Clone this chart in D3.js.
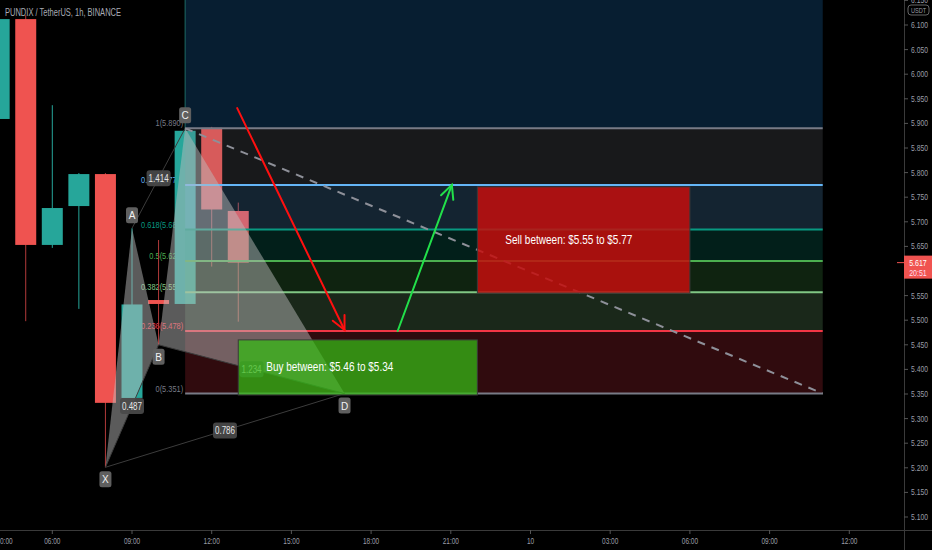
<!DOCTYPE html>
<html><head><meta charset="utf-8">
<script src="https://cdn.jsdelivr.net/npm/d3@7"></script>
<style>
html,body{margin:0;padding:0;background:#000;overflow:hidden}
svg{display:block}
text{font-family:"Liberation Sans","DejaVu Sans",sans-serif}
</style></head><body>
<svg id="c" width="932" height="550"></svg>
<script>
// ---------- data ----------
const title = "PUNDIX / TetherUS, 1h, BINANCE";
const candleHours = [4, 5, 6, 7, 8, 9, 10, 11, 12, 13];           // hours since 00:00 on the 9th
const opens  = [5.909, 6.112, 5.653, 5.732, 5.797, 5.342, 5.541, 5.533, 5.891, 5.722];
const highs  = [6.112, 6.120, 5.937, 5.799, 5.799, 5.687, 5.663, 5.890, 5.893, 5.739];
const lows   = [5.909, 5.498, 5.647, 5.523, 5.201, 5.342, 5.450, 5.533, 5.609, 5.497];
const closes = [6.112, 5.653, 5.728, 5.797, 5.332, 5.532, 5.533, 5.885, 5.725, 5.617];
const lastPrice = 5.617, countdown = "20:51";

const patternNames  = ["X", "A", "B", "C", "D"];
const patternHours  = [8, 9, 10, 11, 17];
const patternPrices = [5.201, 5.687, 5.450, 5.890, 5.351];
const ratioSegments = [["X","B"], ["A","C"], ["B","D"], ["X","D"]];
const ratioTexts    = ["0.487", "1.414", "1.234", "0.786"];

const fibPrice1 = 5.890, fibPrice0 = 5.351, fibStartHour = 11, fibEndHour = 35;
const fibRatios = [1.618, 1, 0.786, 0.618, 0.5, 0.382, 0.236, 0];
const fibColors = ["#2196f3", "#787b86", "#64b5f6", "#089981", "#4caf50", "#81c784", "#f23645", "#787b86"];

const trendHours = [11, 35], trendPrices = [5.890, 5.351];
const redArrowHours = [12.96, 17.0],  redArrowPrices = [5.931, 5.480];
const greenArrowHours = [19.0, 21.04], greenArrowPrices = [5.478, 5.775];

const buyHours = [13, 22], buyPrices = [5.46, 5.348], buyText = "Buy between: $5.46 to $5.34";
const sellHours = [22, 30], sellPrices = [5.771, 5.555], sellText = "Sell between: $5.55 to $5.77";

const timeTickHours  = [4.2, 6, 9, 12, 15, 18, 21, 24, 27, 30, 33, 36];
const timeTickLabels = ["00:00","06:00","09:00","12:00","15:00","18:00","21:00","10","03:00","06:00","09:00","12:00"];
const priceTicks = d3.range(5.10, 6.1501, 0.05);
const currencyLabel = "USDT";

// ---------- setup ----------
const svg = d3.select("#c");
const plotRight = 904, plotBottom = 530;
const x = d3.scaleLinear().domain([6, 9]).range([52.3, 132]);
const y = d3.scaleLinear().domain([5.1, 6.1]).range([517, 25]);
function squeeze(sel, f){ sel.each(function(){ const w=this.getComputedTextLength(); d3.select(this).attr("textLength", w*f).attr("lengthAdjust","spacingAndGlyphs"); }); }

svg.append("rect").attr("width",932).attr("height",550).attr("fill","#000");
const plot = svg.append("g");
svg.append("defs").append("clipPath").attr("id","pc").append("rect").attr("width",plotRight).attr("height",plotBottom);
plot.attr("clip-path","url(#pc)");

const P = {}; patternNames.forEach((n,i)=>P[n]={x:x(patternHours[i]), y:y(patternPrices[i])});

// fib labels (under candles)
const fx0 = x(fibStartHour), fx1 = x(fibEndHour);
const fibPrice = r => fibPrice0 + r*(fibPrice1-fibPrice0);
plot.append("g").selectAll("text").data(fibRatios.filter(r=>r<=1)).join("text")
  .attr("x", fx0-2).attr("y", r=>y(fibPrice(r))-2).attr("text-anchor","end")
  .attr("font-size",9.5).attr("fill", r=>fibColors[fibRatios.indexOf(r)])
  .text(r=>`${r}(${fibPrice(r).toFixed(3)})`).call(squeeze,0.78);

// candles
const bw = (x(1)-x(0))*0.79;
const cg = plot.append("g");
candleHours.forEach((h,i)=>{
  const up = closes[i] >= opens[i];
  const col = up ? "#26a69a" : "#ef5350";
  cg.append("line").attr("x1",x(h)).attr("x2",x(h)).attr("y1",y(highs[i])).attr("y2",y(lows[i])).attr("stroke", up?"#26a69a":"#b23a3a").attr("stroke-width",1);
  const t = y(Math.max(opens[i],closes[i])), b = y(Math.min(opens[i],closes[i]));
  cg.append("rect").attr("x",x(h)-bw/2).attr("width",bw).attr("y",t).attr("height",Math.max(2,b-t)).attr("fill",col);
});

// fib bands & lines
const fg = plot.append("g");
for (let i=0;i<fibRatios.length-1;i++){
  const a = y(fibPrice(fibRatios[i])), b = y(fibPrice(fibRatios[i+1]));
  fg.append("rect").attr("x",fx0).attr("width",fx1-fx0).attr("y",a).attr("height",b-a).attr("fill",fibColors[i]).attr("fill-opacity",0.2);
}
fg.append("line").attr("x1",fx0).attr("x2",fx0).attr("y1",0).attr("y2",y(fibPrice1)).attr("stroke","#1d6b66").attr("stroke-width",1);
fibRatios.filter(r=>r<=1).forEach(r=>{
  fg.append("line").attr("x1",fx0).attr("x2",fx1).attr("y1",y(fibPrice(r))).attr("y2",y(fibPrice(r)))
    .attr("stroke",fibColors[fibRatios.indexOf(r)]).attr("stroke-width",2);
});

// pattern triangles
const pg = plot.append("g");
[["X","A","B"],["B","C","D"]].forEach(tri=>{
  pg.append("path").attr("d","M"+tri.map(n=>P[n].x+","+P[n].y).join("L")+"Z").attr("fill","rgb(190,190,190)").attr("fill-opacity",0.48);
});
ratioSegments.forEach(([a,b])=>{
  pg.append("line").attr("x1",P[a].x).attr("y1",P[a].y).attr("x2",P[b].x).attr("y2",P[b].y).attr("stroke","#3c3c3c").attr("stroke-width",1);
});
ratioSegments.forEach(([a,b],i)=>{
  const mx=(P[a].x+P[b].x)/2, my=(P[a].y+P[b].y)/2;
  const g = pg.append("g").attr("transform",`translate(${mx},${my})`);
  g.append("rect").attr("x",-12).attr("y",-8).attr("width",24).attr("height",16).attr("rx",3).attr("fill","#4a4a4a").attr("fill-opacity",0.92);
  g.append("text").attr("y",3.5).attr("text-anchor","middle").attr("font-size",10).attr("fill","#e6e6e6").text(ratioTexts[i]).call(squeeze,0.8);
});

// dashed trend line
plot.append("line").attr("x1",x(trendHours[0])).attr("y1",y(trendPrices[0])).attr("x2",x(trendHours[1])).attr("y2",y(trendPrices[1]))
  .attr("stroke","#8e9099").attr("stroke-width",2).attr("stroke-dasharray","8,7");

// boxes
function box(hs, ps, fill, op, txt){
  const g = plot.append("g");
  const x0=x(hs[0]), x1=x(hs[1]), y0=y(ps[0]), y1=y(ps[1]);
  g.append("rect").attr("x",x0).attr("y",y0).attr("width",x1-x0).attr("height",y1-y0).attr("fill",fill).attr("fill-opacity",op)
    .attr("stroke","#3a3a3a").attr("stroke-width",1);
  g.append("text").attr("x",x0+28).attr("y",(y0+y1)/2+4).attr("font-size",12.5).attr("fill","#fff").attr("textLength",127).attr("lengthAdjust","spacingAndGlyphs").text(txt);
}
box(buyHours, buyPrices, "rgb(54,186,21)", 0.74, buyText);
box(sellHours, sellPrices, "rgb(196,14,13)", 0.85, sellText);

// arrows
function arrow(hs, ps, col){
  const x0=x(hs[0]), y0=y(ps[0]), x1=x(hs[1]), y1=y(ps[1]);
  const g = plot.append("g").attr("stroke",col).attr("stroke-width",2).attr("fill","none").attr("stroke-linecap","round");
  g.append("line").attr("x1",x0).attr("y1",y0).attr("x2",x1).attr("y2",y1);
  const ang = Math.atan2(y0-y1, x0-x1), L=15, sp=0.45;
  g.append("path").attr("d",`M${x1+L*Math.cos(ang+sp)},${y1+L*Math.sin(ang+sp)}L${x1},${y1}L${x1+L*Math.cos(ang-sp)},${y1+L*Math.sin(ang-sp)}`);
}
arrow(redArrowHours, redArrowPrices, "#ff1010");
arrow(greenArrowHours, greenArrowPrices, "#22e04a");

// point labels
patternNames.forEach((n,i)=>{
  const prev = patternPrices[i-1] ?? patternPrices[i+1], next = patternPrices[i+1] ?? patternPrices[i-1];
  const peak = patternPrices[i] > prev && patternPrices[i] > next;
  const cy = P[n].y + (peak ? -13 : 12);
  const g = plot.append("g").attr("transform",`translate(${P[n].x},${cy})`);
  g.append("rect").attr("x",-6).attr("y",-8).attr("width",12).attr("height",16).attr("rx",2.5).attr("fill","#5f5f5f");
  g.append("text").attr("y",4).attr("text-anchor","middle").attr("font-size",10).attr("fill","#f2f2f2").text(n);
});

// ---------- axes ----------
svg.append("line").attr("x1",0).attr("x2",932).attr("y1",plotBottom+0.5).attr("y2",plotBottom+0.5).attr("stroke","#3a3a3a");
svg.append("line").attr("x1",plotRight+0.5).attr("x2",plotRight+0.5).attr("y1",0).attr("y2",550).attr("stroke","#3a3a3a");
const tg = svg.append("g");
timeTickHours.forEach((h,i)=>{
  if (i>0) tg.append("line").attr("x1",x(h)).attr("x2",x(h)).attr("y1",plotBottom).attr("y2",plotBottom+4).attr("stroke","#555");
  tg.append("text").attr("x",x(h)).attr("y",plotBottom+14).attr("text-anchor","middle").attr("font-size",9).attr("fill","#9a9da6").text(timeTickLabels[i]).call(squeeze,0.72);
});
const ag = svg.append("g");
priceTicks.forEach(p=>{
  if (Math.abs(y(p)-y(lastPrice))<14) return;
  ag.append("line").attr("x1",plotRight).attr("x2",plotRight+4).attr("y1",y(p)).attr("y2",y(p)).attr("stroke","#555");
  ag.append("text").attr("x",plotRight+7).attr("y",y(p)+3).attr("font-size",9).attr("fill","#9a9da6").text(p.toFixed(3)).call(squeeze,0.75);
});
ag.append("rect").attr("x",plotRight+4).attr("y",5).attr("width",21).attr("height",10).attr("rx",3).attr("fill","#000").attr("stroke","#666");
ag.append("text").attr("x",plotRight+14.5).attr("y",13).attr("text-anchor","middle").attr("font-size",7).attr("fill","#9a9da6").text(currencyLabel).call(squeeze,0.8);
// last price label
const ly = y(lastPrice);
plot.append("line").attr("x1",plotRight-7).attr("x2",plotRight).attr("y1",ly).attr("y2",ly).attr("stroke","#ef5350").attr("stroke-width",1);
ag.append("rect").attr("x",plotRight).attr("y",ly-7).attr("width",28).attr("height",23).attr("fill","#f05350");
ag.append("text").attr("x",plotRight+14).attr("y",ly+3.5).attr("text-anchor","middle").attr("font-size",9).attr("fill","#fff").text(lastPrice.toFixed(3)).call(squeeze,0.78);
ag.append("text").attr("x",plotRight+14).attr("y",ly+13.5).attr("text-anchor","middle").attr("font-size",9).attr("fill","#fde").text(countdown).call(squeeze,0.78);

// title
svg.append("text").attr("x",5).attr("y",16).attr("font-size",10.5).attr("fill","#a8abb4").attr("textLength",116).attr("lengthAdjust","spacingAndGlyphs").text(title);
</script>
</body></html>
